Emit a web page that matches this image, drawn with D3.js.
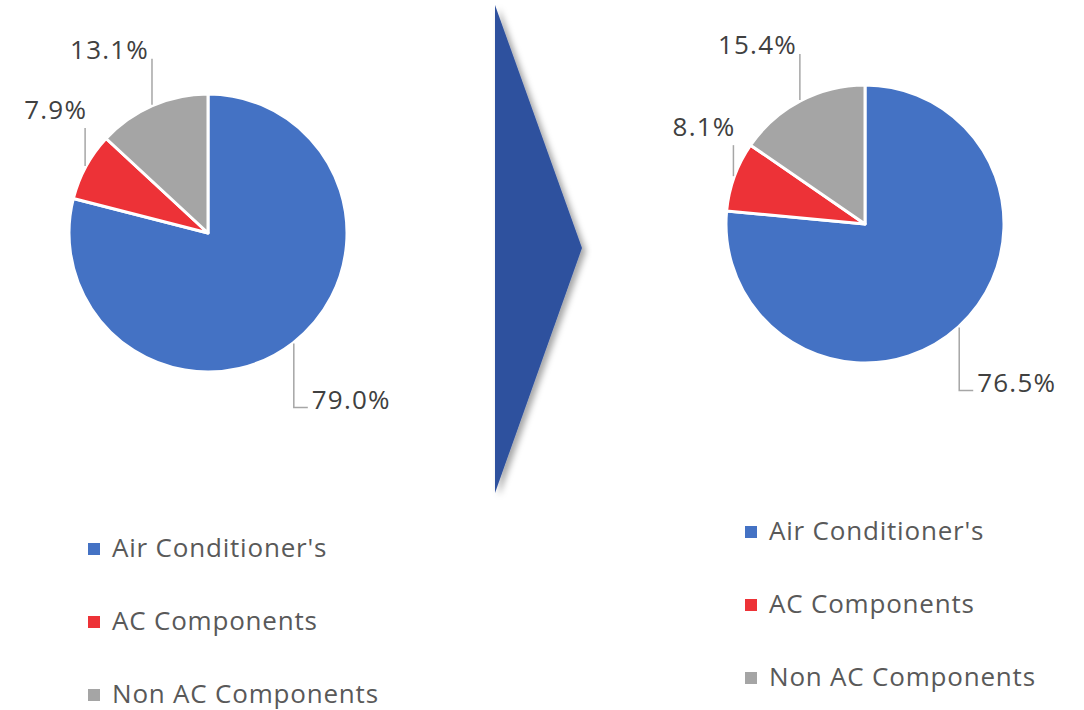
<!DOCTYPE html>
<html><head><meta charset="utf-8">
<script src="https://cdn.jsdelivr.net/npm/d3@7"></script>
<style>body{margin:0;background:#fff}</style>
</head><body>
<svg id="chart" width="1084" height="710"></svg>
<script>
const categories = ["Air Conditioner's", "AC Components", "Non AC Components"];
const valuesBefore = [79.0, 7.9, 13.1];
const valuesAfter = [76.5, 8.1, 15.4];
const colors = ["#4472c4", "#ed3237", "#a5a5a5"];

const FONT = "'Open Sans', Lato, sans-serif";
const svg = d3.select("#chart");
const defs = svg.append("defs");
const f = defs.append("filter").attr("id", "shadow").attr("x", "-30%").attr("y", "-10%").attr("width", "160%").attr("height", "120%");
f.append("feDropShadow").attr("dx", 4).attr("dy", 3).attr("stdDeviation", 3).attr("flood-color", "#000").attr("flood-opacity", 0.35);

const color = d3.scaleOrdinal().domain(categories).range(colors);
const fmt = d3.format(".1f");

function drawPie(values, cx, cy, r, leaders, legendX, legendY) {
  const g = svg.append("g").attr("transform", `translate(${cx},${cy})`);
  const arcs = d3.pie().sort(null).value(d => d)(values);
  const arc = d3.arc().innerRadius(0).outerRadius(r);
  g.selectAll("path.slice").data(arcs).enter().append("path")
    .attr("d", arc)
    .attr("fill", (d, i) => color(categories[i]))
    .attr("stroke", "#fff").attr("stroke-width", 3).attr("stroke-linejoin", "round");

  arcs.forEach((d, i) => {
    const a = (d.startAngle + d.endAngle) / 2;
    const sx = Math.sin(a) * (r + 1), sy = -Math.cos(a) * (r + 1);
    const L = leaders[i];
    const label = fmt(values[i]) + "%";
    const t = (sel) => sel.attr("font-family", FONT).attr("font-size", 26)
      .attr("letter-spacing", 1.2).attr("fill", "#404040").text(label);
    if (L.dir === "down") {
      const ey = sy + L.len;
      g.append("path").attr("d", `M${sx},${sy}V${ey}H${sx + 14}`)
        .attr("fill", "none").attr("stroke", "#a6a6a6").attr("stroke-width", 1.5);
      g.append("text").attr("x", sx + 18).attr("y", ey + 1).call(t);
    } else {
      const ey = sy - L.len;
      g.append("path").attr("d", `M${sx},${sy}V${ey}`)
        .attr("fill", "none").attr("stroke", "#a6a6a6").attr("stroke-width", 1.5);
      g.append("text").attr("x", sx + L.dx).attr("y", ey + L.dy)
        .attr("text-anchor", "end").call(t);
    }
  });

  const lg = svg.append("g").attr("transform", `translate(${legendX},${legendY})`);
  const item = lg.selectAll("g").data(categories).enter().append("g")
    .attr("transform", (d, i) => `translate(0,${i * 73})`);
  item.append("rect").attr("x", 0).attr("y", -6).attr("width", 12).attr("height", 12)
    .attr("fill", d => color(d));
  item.append("text").attr("x", 24).attr("y", 8)
    .attr("font-family", FONT).attr("font-size", 26).attr("letter-spacing", 0.8)
    .attr("fill", "#595959")
    .text(d => d);
}

// Arrow between the two pies
svg.append("path")
  .attr("d", d3.line()([[495, 5], [582, 248], [495, 493]]) + "Z")
  .attr("fill", "#2f519e")
  .attr("filter", "url(#shadow)");

drawPie(valuesBefore, 208, 233, 139,
  [{dir: "down", len: 64}, {dir: "up", len: 38, dx: 2, dy: -9}, {dir: "up", len: 46, dx: -3, dy: 0}],
  88, 549);
drawPie(valuesAfter, 865, 224, 139,
  [{dir: "down", len: 63}, {dir: "up", len: 31, dx: 2, dy: -9}, {dir: "up", len: 46, dx: -3, dy: 0}],
  745, 532);
</script>
</body></html>
